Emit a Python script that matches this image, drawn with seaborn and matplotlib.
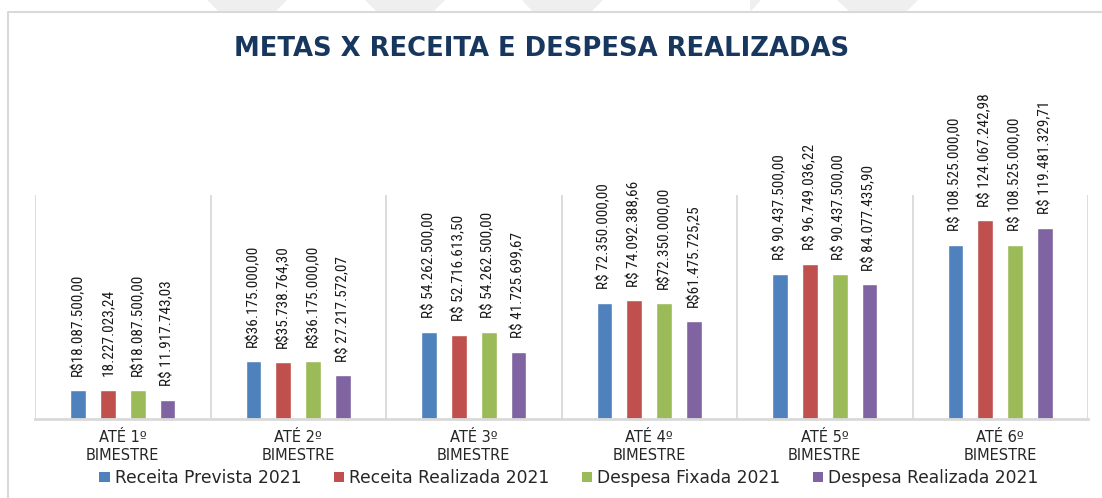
import pandas as pd
import matplotlib
matplotlib.use('Agg')
import matplotlib.pyplot as plt
from matplotlib import font_manager
from matplotlib.patches import Patch, Polygon
from matplotlib.lines import Line2D
import seaborn as sns

# categorias (bimestres) e séries
bimestres = ["ATÉ 1º\nBIMESTRE", "ATÉ 2º\nBIMESTRE", "ATÉ 3º\nBIMESTRE",
             "ATÉ 4º\nBIMESTRE", "ATÉ 5º\nBIMESTRE", "ATÉ 6º\nBIMESTRE"]
series = ["Receita Prevista 2021", "Receita Realizada 2021",
          "Despesa Fixada 2021", "Despesa Realizada 2021"]

receita_prevista = [18087500.00, 36175000.00, 54262500.00, 72350000.00, 90437500.00, 108525000.00]
receita_realizada = [18227023.24, 35738764.30, 52716613.50, 74092388.66, 96749036.22, 124067242.98]
despesa_fixada = [18087500.00, 36175000.00, 54262500.00, 72350000.00, 90437500.00, 108525000.00]
despesa_realizada = [11917743.03, 27217572.07, 41725699.67, 61475725.25, 84077435.90, 119481329.71]

# rótulos como aparecem no gráfico original
lbl_receita_prevista = ["R$18.087.500,00", "R$36.175.000,00", "R$ 54.262.500,00",
                        "R$ 72.350.000,00", "R$ 90.437.500,00", "R$ 108.525.000,00"]
lbl_receita_realizada = ["18.227.023,24", "R$35.738.764,30", "R$ 52.716.613,50",
                         "R$ 74.092.388,66", "R$ 96.749.036,22", "R$ 124.067.242,98"]
lbl_despesa_fixada = ["R$18.087.500,00", "R$36.175.000,00", "R$ 54.262.500,00",
                      "R$72.350.000,00", "R$ 90.437.500,00", "R$ 108.525.000,00"]
lbl_despesa_realizada = ["R$ 11.917.743,03", "R$ 27.217.572,07", "R$ 41.725.699,67",
                         "R$61.475.725,25", "R$ 84.077.435,90", "R$ 119.481.329,71"]

cores = ["#4F81BD", "#C0504D", "#9BBB59", "#8064A2"]

valores = [receita_prevista, receita_realizada, despesa_fixada, despesa_realizada]
rotulos = [lbl_receita_prevista, lbl_receita_realizada, lbl_despesa_fixada, lbl_despesa_realizada]

df = pd.DataFrame({
    "bimestre": bimestres * 4,
    "serie": [s for s in series for _ in bimestres],
    "valor": [v for vals in valores for v in vals],
})

sns.set_style("white")
plt.rcParams['font.family'] = ['DejaVu Sans']

# fonte estreita para os rótulos (o que houver instalado)
instaladas = {f.name for f in font_manager.fontManager.ttflist}
fonte_rot = "Liberation Sans"
for nome in ["Liberation Sans Narrow", "DejaVu Sans Condensed", "Roboto Condensed", "Liberation Sans"]:
    if nome in instaladas:
        fonte_rot = nome
        break
tam_rot = 11 if fonte_rot in ("Liberation Sans Narrow", "Roboto Condensed") else 10

W, H = 1102, 498
fig = plt.figure(figsize=(W / 100, H / 100), dpi=100)
fig.patch.set_facecolor("white")

# marca d'água no topo
for xs in [(207, 287, 219, 275), (365, 445, 377, 433), (522, 603, 533, 591), (837, 918, 850, 906)]:
    x0, x1, b0, b1 = xs
    pts = [(x0 / W, 1), (x1 / W, 1), (b1 / W, 1 - 12 / H), (b0 / W, 1 - 12 / H)]
    fig.patches.append(Polygon(pts, closed=True, transform=fig.transFigure,
                               facecolor="#efefef", edgecolor="none", zorder=0))
fig.patches.append(Polygon([(750 / W, 1), (761 / W, 1), (750 / W, 1 - 12 / H)], closed=True,
                           transform=fig.transFigure, facecolor="#efefef", edgecolor="none", zorder=0))

# moldura do gráfico
fig.lines.append(Line2D([7.5 / W, 7.5 / W, 1.0], [0, 1 - 12.5 / H, 1 - 12.5 / H],
                        transform=fig.transFigure, color="#d9d9d9", lw=1.5))

ax = fig.add_axes([35 / W, 1 - 419 / H, (1088 - 35) / W, (419 - 195) / H])

sns.barplot(data=df, x="bimestre", y="valor", hue="serie", order=bimestres,
            hue_order=series, palette=cores, width=0.68, gap=0.47,
            saturation=1, legend=False, ax=ax)

ax.set_ylim(0, 140e6)
ax.set_xlim(-0.5, len(bimestres) - 0.5)

for cont, labs in zip(ax.containers, rotulos):
    ax.bar_label(cont, labels=labs, rotation=90, padding=10, fontsize=tam_rot,
                 family=fonte_rot, color="#1a1a1a", clip_on=False)

# linhas verticais entre as categorias
for i in range(len(bimestres) + 1):
    ax.axvline(i - 0.5, ymin=0, ymax=1, color="#d9d9d9", lw=1.3, zorder=0)

for s in ["top", "right", "left"]:
    ax.spines[s].set_visible(False)
ax.spines["bottom"].set_color("#d9d9d9")
ax.spines["bottom"].set_linewidth(2)
ax.set_yticks([])
ax.set_xlabel("")
ax.set_ylabel("")
ax.tick_params(axis="x", length=0, pad=8)
for t in ax.get_xticklabels():
    t.set_fontsize(10.5)
    t.set_color("#262626")
    t.set_linespacing(1.25)

fig.text(542 / W, 1 - 49 / H, "METAS X RECEITA E DESPESA REALIZADAS", ha="center", va="center",
         fontsize=18.6, fontweight="bold", color="#17375E")

handles = [Patch(facecolor=c, edgecolor="none") for c in cores]
fig.legend(handles, series, loc="center", bbox_to_anchor=(569 / W, 1 - 478 / H), ncol=4,
           frameon=False, fontsize=12.3, handlelength=0.6, handleheight=0.6,
           handletextpad=0.3, columnspacing=1.9, labelcolor="#262626")

fig.savefig("out.png", dpi=100)
